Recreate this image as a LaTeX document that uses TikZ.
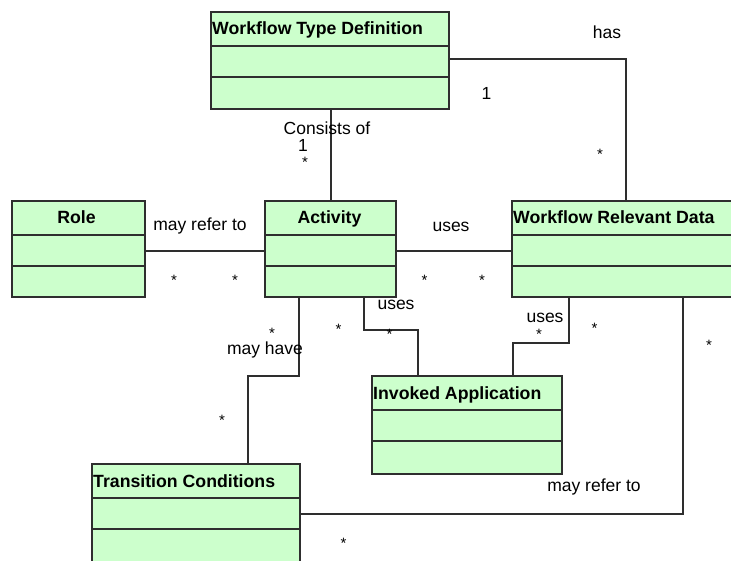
\documentclass[tikz,border=0pt]{standalone}
\usepackage{fontspec}
\setmainfont{Liberation Sans}
\usetikzlibrary{fit,calc}

\definecolor{classfill}{HTML}{CCFFCC}
\definecolor{edgegray}{HTML}{2E2E2E}

\tikzset{
  classbox/.style={draw=edgegray, fill=classfill, line width=2pt, inner sep=0pt},
  divider/.style={draw=edgegray, line width=2pt},
  classtitle/.style={font=\bfseries\fontsize{17.7}{20}\selectfont, inner sep=0pt},
  conn/.style={draw=edgegray, line width=2pt},
  lbl/.style={font=\fontsize{17.5}{20}\selectfont, inner sep=0pt, anchor=base},
  mult/.style={font=\fontsize{15}{18}\selectfont, inner sep=0pt, anchor=base},
}

% UML class: name, north-west corner, south-east corner
\newcommand\umlclass[3]{%
  \node[classbox, fit={#2 #3}] (#1) {};
  \draw[divider] ($(#1.north west)+(0,35)$) -- ($(#1.north east)+(0,35)$);
  \draw[divider] ($(#1.north west)+(0,66)$) -- ($(#1.north east)+(0,66)$);
}

\begin{document}
\begin{tikzpicture}[x=1pt,y=-1pt]
\useasboundingbox (0,0) rectangle (731,561);
\fill[white] (0,0) rectangle (731,561);
\clip (0,0) rectangle (731,561);

% classes
\umlclass{wtd}{(211,12)}{(449,109)}
\umlclass{role}{(12,201)}{(145,297)}
\umlclass{act}{(265,201)}{(396,297)}
\umlclass{wrd}{(512,201)}{(780,297)}
\umlclass{ia}{(372,376)}{(562,474)}
\umlclass{tc}{(92,464)}{(300,566)}

% class titles
\node[classtitle, anchor=base west] (wtdT) at ($(wtd.north west)+(2,24)$) {Workflow Type Definition};
\node[classtitle, anchor=base] (roleT) at ($(role.north)+(-2,24)$) {Role};
\node[classtitle, anchor=base] (actT) at ($(act.north)+(-1,24)$) {Activity};
\node[classtitle, anchor=base west] (wrdT) at ($(wrd.north west)+(2,24)$) {Workflow Relevant Data};
\node[classtitle, anchor=base west] (iaT) at ($(ia.north west)+(2,24)$) {Invoked Application};
\node[classtitle, anchor=base west] (tcT) at ($(tc.north west)+(2,24)$) {Transition Conditions};

% associations
\draw[conn] (wtd.east |- 0,59) -| (wrd.north -| 626,0);
\draw[conn] (wtd.south -| 331,0) -- (act.north -| 331,0);
\draw[conn] (role.east |- 0,251) -- (act.west |- 0,251);
\draw[conn] (act.east |- 0,251) -- (wrd.west |- 0,251);
\draw[conn] (act.south -| 299,0) -- (299,376) -| (tc.north -| 248,0);
\draw[conn] (act.south -| 364,0) |- (418,330) -- (ia.north -| 418,0);
\draw[conn] (wrd.south -| 569,0) |- (513,343) -- (ia.north -| 513,0);
\draw[conn] (wrd.south -| 683,0) |- (tc.east |- 0,514);

% association names
\node[lbl] (lHas) at (607,39) {has};
\node[lbl] (lCons) at (327,135) {Consists of};
\node[lbl] (lRoleRef) at (200,231) {may refer to};
\node[lbl] (lUses1) at (451,231.5) {uses};
\node[lbl] (lUses2) at (396,310) {uses};
\node[lbl] (lUses3) at (545,323) {uses};
\node[lbl] (lHave) at (265,355) {may have};
\node[lbl] (lDataRef) at (594,491) {may refer to};

% multiplicities
\node[lbl] (m1) at (486.5,100) {1};
\node[lbl] (m2) at (303,152) {1};
\node[mult] (s1) at (600,159.5) {*};
\node[mult] (s2) at (305,167.5) {*};
\node[mult] (s3) at (174,285.5) {*};
\node[mult] (s4) at (235,285.5) {*};
\node[mult] (s5) at (424.5,285.5) {*};
\node[mult] (s6) at (482,285.5) {*};
\node[mult] (s7) at (389.5,339) {*};
\node[mult] (s8) at (539,339) {*};
\node[mult] (s9) at (594.5,334) {*};
\node[mult] (s10) at (709,350) {*};
\node[mult] (s11) at (272,338) {*};
\node[mult] (s12) at (338.5,334.5) {*};
\node[mult] (s13) at (222,425.5) {*};
\node[mult] (s14) at (343.5,548.5) {*};
\end{tikzpicture}
\end{document}
